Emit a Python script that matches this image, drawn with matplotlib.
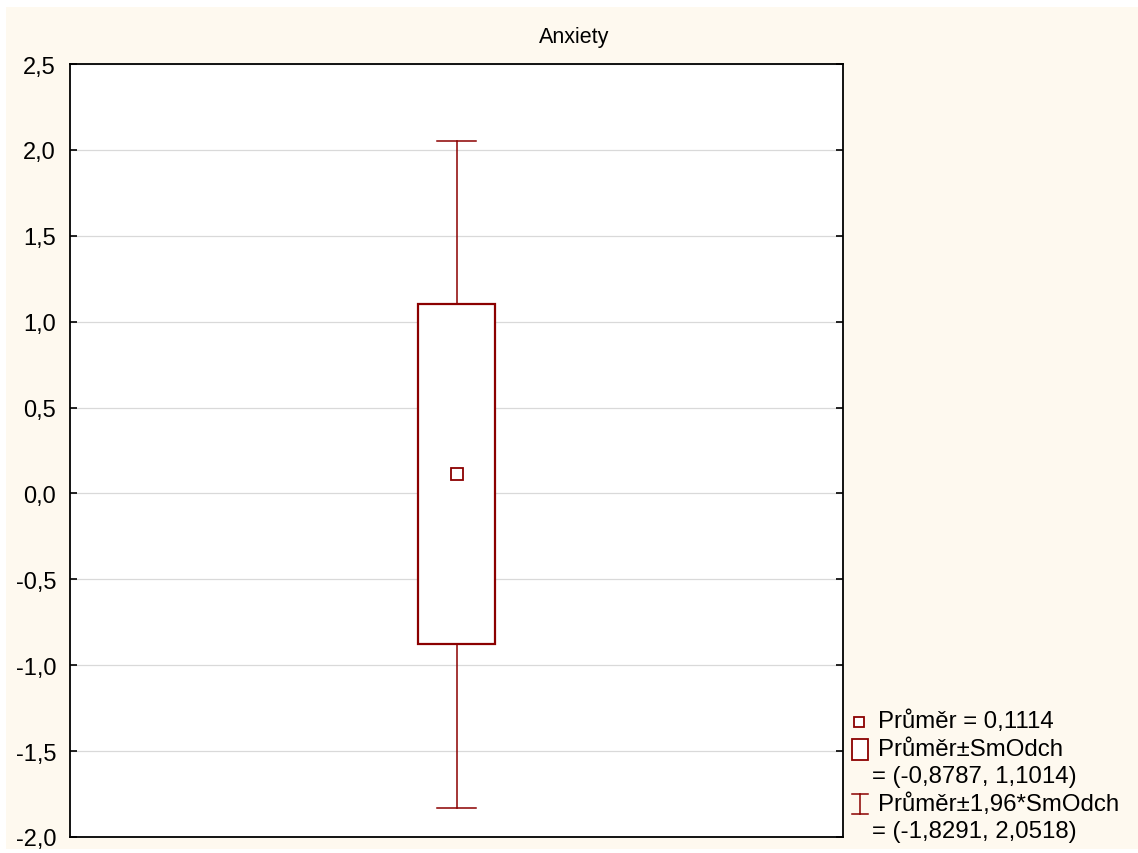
import matplotlib
matplotlib.use("Agg")
import matplotlib.pyplot as plt
from matplotlib.patches import Rectangle
from matplotlib.lines import Line2D

# ---- data ----
title = "Anxiety"
mean = 0.1114
sd_low, sd_high = -0.8787, 1.1014
ci_low, ci_high = -1.8291, 2.0518
yticks = [-2.0, -1.5, -1.0, -0.5, 0.0, 0.5, 1.0, 1.5, 2.0, 2.5]

W, H = 1138, 854
RED = "#8B0000"
CREAM = "#FEF9EF"
plt.rcParams['font.family'] = ['Liberation Sans', 'DejaVu Sans']

fig = plt.figure(figsize=(W / 100, H / 100), dpi=100, facecolor="white")

def fx(x):
    return x / W

def fy(y):
    return 1 - y / H

# cream background panel
fig.patches.append(Rectangle((fx(6), fy(850)), fx(W) - fx(6), fy(8) - fy(850),
                             transform=fig.transFigure, facecolor=CREAM,
                             edgecolor="none", zorder=-10))

ax = fig.add_axes([fx(70), fy(838), fx(843) - fx(70), fy(65) - fy(838)])
ax.set_facecolor("white")
ax.set_xlim(0, 1)
ax.set_ylim(-2.0, 2.5)
ax.set_yticks(yticks)
ax.set_yticklabels([f"{v:.1f}".replace(".", ",") for v in yticks], fontsize=17)
ax.set_xticks([])
ax.tick_params(axis="y", direction="in", length=5, width=1.2, right=True, pad=10)
ax.grid(axis="y", color="#d9d9d9", linewidth=0.9)
ax.set_axisbelow(True)
for s in ax.spines.values():
    s.set_linewidth(1.3)
    s.set_color("black")
fig.text(fx(574), fy(38), title, fontsize=15.5, ha="center", va="center")

cx = 0.5
bw = 0.05
cw = 0.025
# whiskers
ax.plot([cx, cx], [sd_high, ci_high], color=RED, lw=1.1, zorder=3)
ax.plot([cx, cx], [ci_low, sd_low], color=RED, lw=1.1, zorder=3)
ax.plot([cx - cw, cx + cw], [ci_high, ci_high], color=RED, lw=1.1, zorder=3)
ax.plot([cx - cw, cx + cw], [ci_low, ci_low], color=RED, lw=1.1, zorder=3)
# box
ax.add_patch(Rectangle((cx - bw, sd_low), 2 * bw, sd_high - sd_low,
                       facecolor="white", edgecolor=RED, lw=1.6, zorder=4))
# mean
ax.plot([cx], [mean], marker="s", markersize=8, markerfacecolor="white",
        markeredgecolor=RED, markeredgewidth=1.3, zorder=5)

# ---- legend (manual) ----
def fmt(v):
    return f"{v:.4f}".replace(".", ",")

lfs = 17.3
# mean symbol
fig.patches.append(Rectangle((fx(854), fy(728)), fx(10), fy(718) - fy(728),
                             transform=fig.transFigure, facecolor="white",
                             edgecolor=RED, lw=1.3))
fig.text(fx(878), fy(722), f"Průměr = {fmt(mean)}", fontsize=lfs, va="center", ha="left")
# box symbol
fig.patches.append(Rectangle((fx(852), fy(761)), fx(16), fy(740) - fy(761),
                             transform=fig.transFigure, facecolor="white",
                             edgecolor=RED, lw=1.3))
fig.text(fx(878), fy(750), "Průměr±SmOdch", fontsize=lfs, va="center", ha="left")
fig.text(fx(872), fy(777), f"= ({fmt(sd_low)}, {fmt(sd_high)})", fontsize=lfs,
         va="center", ha="left")
# whisker symbol
for xs, ys in [([860, 860], [795, 815]), ([852, 868], [795, 795]), ([852, 868], [815, 815])]:
    fig.lines.append(Line2D([fx(x) for x in xs], [fy(y) for y in ys],
                            transform=fig.transFigure, color=RED, lw=1.1))
fig.text(fx(878), fy(805), "Průměr±1,96*SmOdch", fontsize=lfs, va="center", ha="left")
fig.text(fx(872), fy(832), f"= ({fmt(ci_low)}, {fmt(ci_high)})", fontsize=lfs,
         va="center", ha="left")

fig.savefig("out.png", dpi=100, facecolor=fig.get_facecolor())
